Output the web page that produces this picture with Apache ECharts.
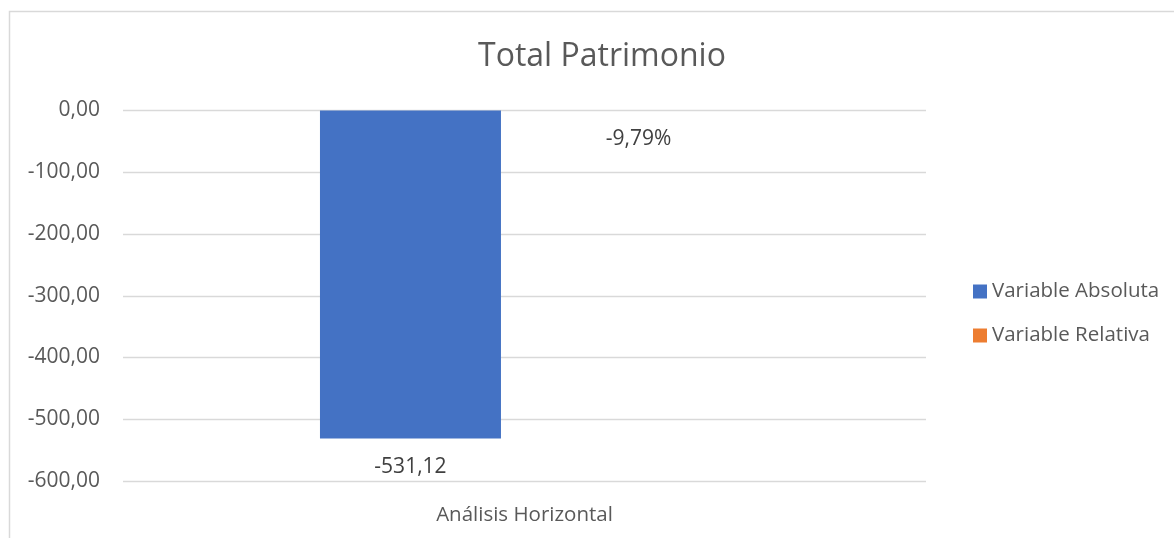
<!DOCTYPE html>
<html>
<head>
<meta charset="utf-8">
<script src="https://cdn.jsdelivr.net/npm/echarts@6/dist/echarts.min.js"></script>
<style>
html,body{margin:0;padding:0;background:#fff;}
#c{width:1174px;height:538px;}
</style>
</head>
<body>
<div id="c"></div>
<script>
const categories = ["Análisis Horizontal"];
const seriesNames = ["Variable Absoluta", "Variable Relativa"];
const absoluta = [-531.12];
const relativa = [-0.0979];
const relativaLabels = ["-9,79%"];
const yTicks = [0, -100, -200, -300, -400, -500, -600];

const fmt = v => v.toFixed(2).replace('.', ',');
const FONT = '"Open Sans", "Noto Sans", sans-serif';
const chart = echarts.init(document.getElementById('c'));
chart.setOption({
  animation: false,
  backgroundColor: '#fff',
  graphic: [{
    type: 'rect', shape: {x: 9.5, y: 11.5, width: 1200, height: 600},
    style: {fill: 'none', stroke: '#d9d9d9', lineWidth: 1.5}, silent: true
  }],
  title: {
    text: 'Total Patrimonio', left: 473, top: 36,
    textStyle: {fontFamily: FONT, fontSize: 32, fontWeight: 'normal', color: '#595959'}
  },
  legend: {
    orient: 'vertical', left: 968, top: 276, itemGap: 23,
    itemWidth: 14, itemHeight: 14, icon: 'rect',
    textStyle: {fontFamily: FONT, fontSize: 20.5, color: '#595959'},
    data: seriesNames
  },
  grid: {left: 123, right: 248, top: 110.5, bottom: 57},
  xAxis: {
    type: 'category', data: categories,
    axisLine: {show: false}, axisTick: {show: false},
    axisLabel: {fontFamily: FONT, fontSize: 20.5, color: '#595959', margin: 24}
  },
  yAxis: {
    type: 'value', min: yTicks[yTicks.length-1], max: yTicks[0], interval: 100,
    axisLine: {show: false}, axisTick: {show: false},
    splitLine: {lineStyle: {color: '#d9d9d9', width: 1.3}},
    axisLabel: {fontFamily: FONT, fontSize: 21, color: '#595959', margin: 23, formatter: fmt}
  },
  series: [
    {
      name: seriesNames[0], type: 'bar', data: absoluta, barWidth: 181, barGap: '26%',
      itemStyle: {color: '#4472C4'},
      label: {show: true, position: 'bottom', distance: 18, fontFamily: FONT, fontSize: 21, color: '#404040', formatter: p => fmt(p.value)}
    },
    {
      name: seriesNames[1], type: 'bar', data: relativa, barWidth: 181,
      itemStyle: {color: '#ED7D31'},
      label: {show: true, position: 'bottom', distance: 18, fontFamily: FONT, fontSize: 21, color: '#404040', formatter: p => relativaLabels[p.dataIndex]}
    }
  ]
});
</script>
</body>
</html>
